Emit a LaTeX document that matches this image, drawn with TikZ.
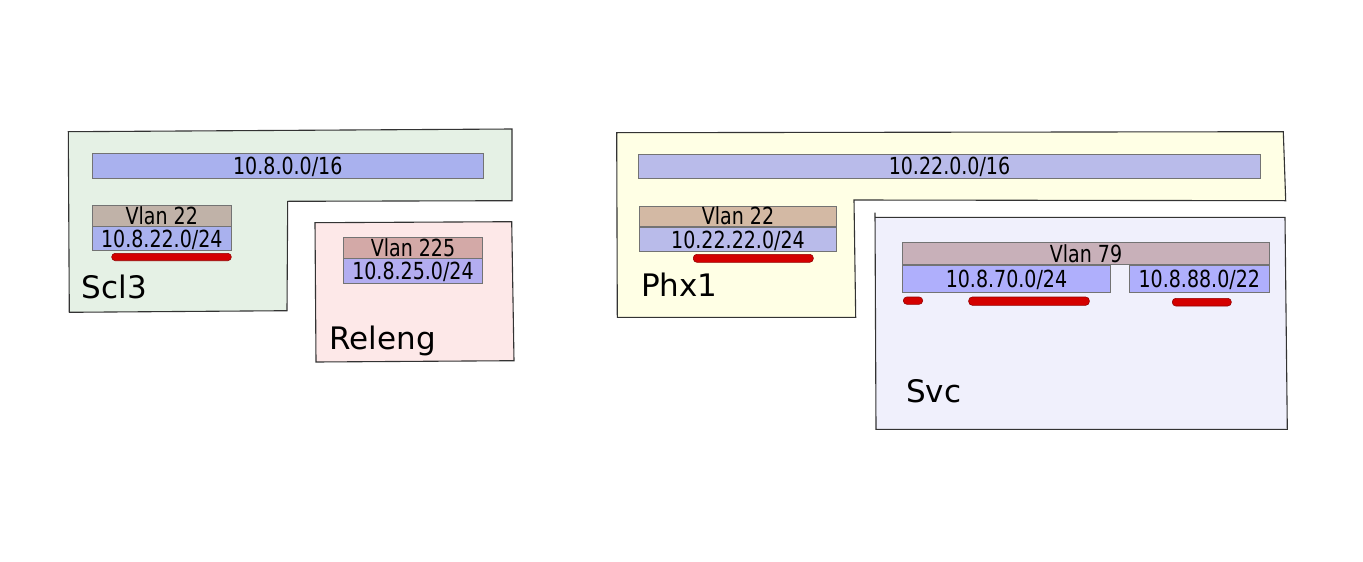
\documentclass[tikz,border=0pt]{standalone}
\usepackage{fontspec}
\setmainfont{DejaVu Sans}
\newfontfamily\narrowfont[FakeStretch=0.81]{DejaVu Sans}
\usetikzlibrary{positioning}

\definecolor{sclzone}{HTML}{E5F1E5}
\definecolor{relzone}{HTML}{FDE8E8}
\definecolor{phxzone}{HTML}{FFFFE5}
\definecolor{svczone}{HTML}{F0F0FC}
\definecolor{sclnet}{HTML}{A9B1EE}
\definecolor{phxnet}{HTML}{B9BBEA}
\definecolor{relnet}{HTML}{B3ADF0}
\definecolor{svcnet}{HTML}{AFAFFC}
\definecolor{sclvlan}{HTML}{C0B2A8}
\definecolor{phxvlan}{HTML}{D3B9A4}
\definecolor{relvlan}{HTML}{D3A9A7}
\definecolor{svcvlan}{HTML}{C8B0B9}
\definecolor{portred}{HTML}{D40000}

\tikzset{
    zone/.style={draw=black!80, line width=1.1pt},
    netbox/.style={draw=black!55, line width=0.7pt, inner sep=0pt, text height=17pt, text depth=0pt,
        font=\narrowfont\fontsize{23.5}{28}\selectfont},
    port/.style={draw=portred!70!black, fill=portred, line width=0.6pt, rounded corners=3.6pt},
    site/.style={anchor=base west, inner sep=0pt, font=\fontsize{31}{37}\selectfont}
}

\begin{document}
\begin{tikzpicture}[x=1pt, y=-1pt]

    \useasboundingbox (0, 0) rectangle (1363, 562);

    \coordinate (S1) at (68.3, 131.7);
    \coordinate (S2) at (512, 129);
    \coordinate (S3) at (512, 200.7);
    \coordinate (S4) at (287.7, 201.3);
    \coordinate (S5) at (287, 310.7);
    \coordinate (S6) at (69.3, 312.3);

    \coordinate (R1) at (315, 222.7);
    \coordinate (R2) at (511.7, 221.7);
    \coordinate (R3) at (514, 360.7);
    \coordinate (R4) at (316, 362);

    \coordinate (P1) at (616.7, 132.7);
    \coordinate (P2) at (1283.3, 131.7);
    \coordinate (P3) at (1285.7, 200.7);
    \coordinate (P4) at (854, 200);
    \coordinate (P5) at (855.7, 317.3);
    \coordinate (P6) at (617.3, 317.3);

    \coordinate (V0) at (875, 212.7);
    \coordinate (V1) at (875, 217.3);
    \coordinate (V2) at (1285, 217.3);
    \coordinate (V3) at (1287.3, 429.3);
    \coordinate (V4) at (876, 429.3);

    \filldraw[zone, fill=sclzone] (S1) -- (S2) -- (S3) -- (S4) -- (S5) -- (S6) -- cycle;
    \filldraw[zone, fill=relzone] (R1) -- (R2) -- (R3) -- (R4) -- cycle;
    \filldraw[zone, fill=phxzone] (P1) -- (P2) -- (P3) -- (P4) -- (P5) -- (P6) -- cycle;
    \fill[svczone] (V1) -- (V2) -- (V3) -- (V4) -- cycle;
    \draw[zone] (V1) -- (V2) -- (V3) -- (V4) -- (V0);

    \node[netbox, fill=sclnet, minimum width=391pt, minimum height=24.6pt] (scl-net) at (287.8, 166) {10.8.0.0/16};
    \node[netbox, fill=sclvlan, minimum width=139pt, minimum height=20.7pt] (scl-vlan) at (161.8, 215.65) {Vlan 22};
    \node[netbox, fill=sclnet, minimum width=139pt, minimum height=24pt, below=0pt of scl-vlan] (scl-sub) {10.8.22.0/24};
    \draw[port] (111.7, 253.3) rectangle (231.3, 260.7);
    \node[site] (scl) at (81.7, 298) {Scl3};

    \node[netbox, fill=relvlan, minimum width=139.4pt, minimum height=20.7pt] (rel-vlan) at (413, 247.65) {Vlan 225};
    \node[netbox, fill=relnet, minimum width=139.4pt, minimum height=24.7pt, below=0pt of rel-vlan] (rel-sub) {10.8.25.0/24};
    \node[site] (rel) at (329.3, 349.3) {Releng};

    \node[netbox, fill=phxnet, minimum width=622.4pt, minimum height=24.3pt] (phx-net) at (949.5, 166.15) {10.22.0.0/16};
    \node[netbox, fill=phxvlan, minimum width=197.4pt, minimum height=20.7pt] (phx-vlan) at (738, 216.35) {Vlan 22};
    \node[netbox, fill=phxnet, minimum width=197.4pt, minimum height=24.3pt, below=0pt of phx-vlan] (phx-sub) {10.22.22.0/24};
    \draw[port] (693.3, 254.3) rectangle (813.3, 262.3);
    \node[site] (phx) at (641, 296) {Phx1};

    \node[netbox, fill=svcvlan, minimum width=366.6pt, minimum height=21.6pt] (svc-vlan) at (1086, 253.5) {Vlan 79};
    \node[netbox, fill=svcnet, minimum width=207.6pt, minimum height=27.4pt, anchor=north west] (svc-sub-a) at (svc-vlan.south west) {10.8.70.0/24};
    \node[netbox, fill=svcnet, minimum width=140pt, minimum height=27.4pt, anchor=north east] (svc-sub-b) at (svc-vlan.south east) {10.8.88.0/22};
    \draw[port] (903.3, 297) rectangle (922.7, 304.3);
    \draw[port] (968.7, 297) rectangle (1089.3, 305.3);
    \draw[port] (1172.3, 298.3) rectangle (1231.3, 306);
    \node[site] (svc) at (906, 402.7) {Svc};

\end{tikzpicture}
\end{document}
